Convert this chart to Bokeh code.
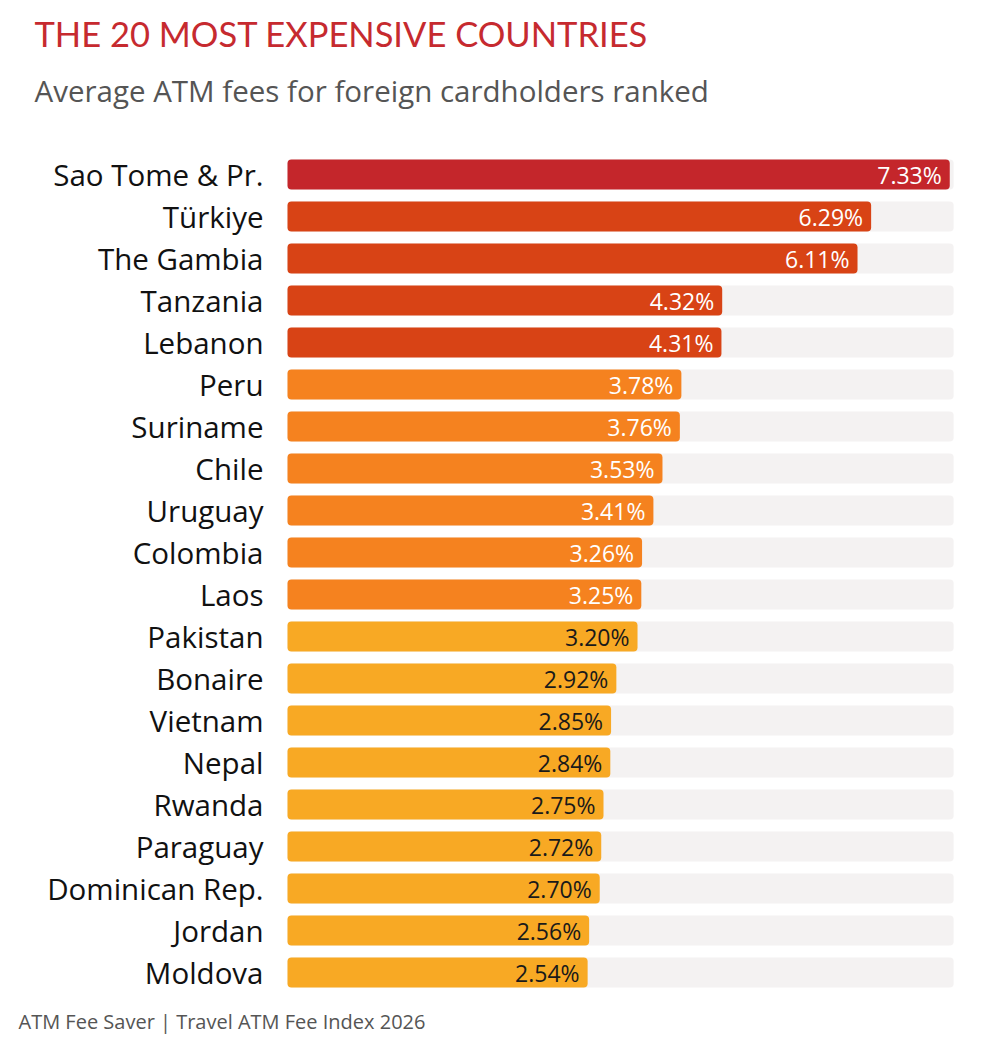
from bokeh.plotting import figure
from bokeh.models import Range1d, Label, ColumnDataSource
from bokeh.core.properties import value
from bokeh.embed import file_html
from bokeh.resources import INLINE

countries = ["Sao Tome & Pr.", "Türkiye", "The Gambia", "Tanzania", "Lebanon", "Peru",
             "Suriname", "Chile", "Uruguay", "Colombia", "Laos", "Pakistan", "Bonaire",
             "Vietnam", "Nepal", "Rwanda", "Paraguay", "Dominican Rep.", "Jordan", "Moldova"]
fees = [7.33, 6.29, 6.11, 4.32, 4.31, 3.78, 3.76, 3.53, 3.41, 3.26, 3.25, 3.20, 2.92,
        2.85, 2.84, 2.75, 2.72, 2.70, 2.56, 2.54]
tiers = [0, 1, 1, 1, 1, 2, 2, 2, 2, 2, 2, 3, 3, 3, 3, 3, 3, 3, 3, 3]

tier_colors = ["#C4262B", "#D84315", "#F5821F", "#F8A924"]
tier_text = ["white", "white", "white", "#1a1a1a"]

W, H = 1007, 1044
px_per_unit = 75.6
bar_left_px = 287
base = -1.43
xa = base - bar_left_px / px_per_unit
xb = xa + W / px_per_unit
row_px = 42
first_row_px = 174
ya = -first_row_px / row_px
yb = ya + H / row_px

p = figure(width=W, height=H, output_backend="svg", toolbar_location=None,
           x_range=Range1d(xa, xb), y_range=Range1d(yb, ya),
           min_border=0, min_border_left=0, min_border_right=0,
           min_border_top=0, min_border_bottom=0)
p.axis.visible = False
p.grid.visible = False
p.outline_line_color = None
p.background_fill_color = "white"

idx = list(range(len(countries)))
track_end = max(fees) * 1.007
src = ColumnDataSource(dict(
    y=idx, fee=fees, country=countries,
    color=[tier_colors[t] for t in tiers],
    tcolor=[tier_text[t] for t in tiers],
    label=[f"{v:.2f}%" for v in fees],
    base=[base] * len(fees), track=[track_end] * len(fees),
))

p.hbar(y="y", left="base", right="track", height=0.72, source=src,
       fill_color="#F4F2F2", line_color=None, border_radius=4)
p.hbar(y="y", left="base", right="fee", height=0.72, source=src,
       fill_color="color", line_color=None, border_radius=4)

p.text(x="fee", y="y", text="label", source=src, x_offset=-8,
       text_align="right", text_baseline="middle", text_color="tcolor",
       text_font=value("Open Sans"), text_font_size="23px")
p.text(x="base", y="y", text="country", source=src, x_offset=-24,
       text_align="right", text_baseline="middle", text_color="#111111",
       text_font=value("Open Sans"), text_font_size="29.5px")

p.add_layout(Label(x=34, y=H - 33, x_units="screen", y_units="screen",
                   text="THE 20 MOST EXPENSIVE COUNTRIES", text_color="#C62A2F",
                   text_font="Lato", text_font_size="34.5px", text_baseline="alphabetic"))
p.add_layout(Label(x=34, y=H - 90, x_units="screen", y_units="screen",
                   text="Average ATM fees for foreign cardholders ranked", text_color="#555555",
                   text_font="Open Sans", text_font_size="29.5px", text_baseline="alphabetic"))
p.add_layout(Label(x=18, y=H - 1021, x_units="screen", y_units="screen",
                   text="ATM Fee Saver | Travel ATM Fee Index 2026", text_color="#555555",
                   text_font="Open Sans", text_font_size="20px", text_baseline="alphabetic"))

open("out.html", "w").write(file_html(p, INLINE))
